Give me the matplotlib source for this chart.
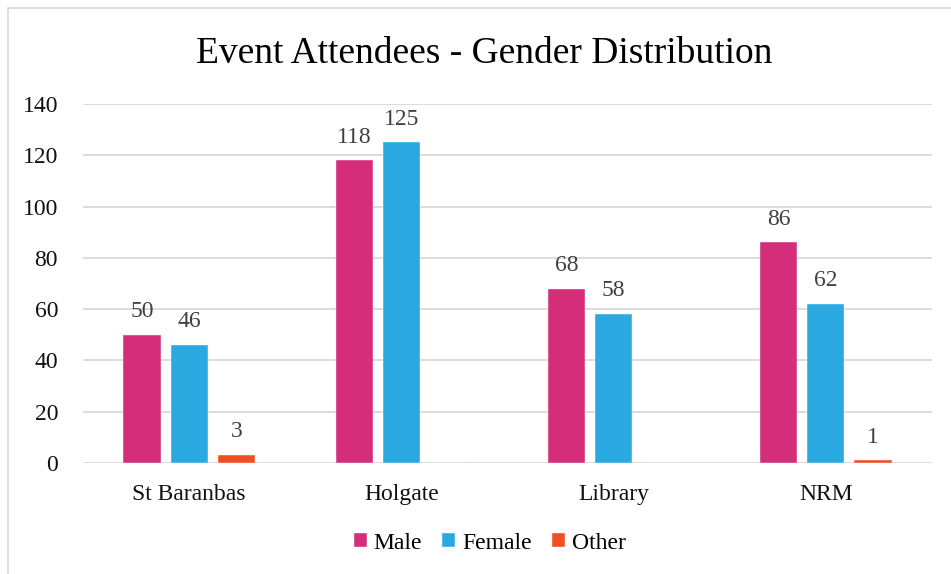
import numpy as np
import matplotlib
matplotlib.use('Agg')
import matplotlib.pyplot as plt
from matplotlib.patches import Rectangle

plt.rcParams['font.family'] = ['Liberation Serif', 'DejaVu Serif']

venues = ['St Baranbas', 'Holgate', 'Library', 'NRM']
male = [50, 118, 68, 86]
female = [46, 125, 58, 62]
other = [3, 0, 0, 1]
series = ['Male', 'Female', 'Other']
colors = ['#D42E7A', '#29A9E0', '#F04E23']

fig = plt.figure(figsize=(9.51, 5.74), dpi=100)
ax = fig.add_axes([0.0873, 0.1934, 0.8927, 0.6254])

# outer chart border (only the left and top edges are visible in the crop)
fig.patches.append(Rectangle((8 / 951, -0.1), 1.2, 1.1 - 8 / 574, transform=fig.transFigure,
                             fill=False, edgecolor='#D9D9D9', linewidth=1.2))

x = np.arange(len(venues))
w = 0.175
step = 0.222
for i, (name, vals, c) in enumerate(zip(series, [male, female, other], colors)):
    pos = x + (i - 1) * step
    bars = ax.bar(pos, vals, w, color=c, label=name, edgecolor='white', linewidth=0.3, zorder=3)
    for p, v in zip(pos, vals):
        if v > 0:
            ax.text(p, v + 5, str(v), ha='center', va='bottom', fontsize=17, color='#404040')

ax.set_xlim(-0.5, 3.5)
ax.set_ylim(0, 140)
ax.set_yticks(range(0, 141, 20))
ax.grid(axis='y', color='#D9D9D9', linewidth=1.3, zorder=0)
for s in ax.spines.values():
    s.set_visible(False)
ax.tick_params(length=0, labelsize=17, labelcolor='#111111')
ax.tick_params(axis='y', pad=18)
ax.tick_params(axis='x', pad=15)
ax.set_xticks(x)
ax.set_xticklabels(venues)

fig.suptitle('Event Attendees - Gender Distribution', x=0.509, y=0.937, fontsize=27, color='#000000')

fig.legend(loc='center', bbox_to_anchor=(0.515, 0.054), ncol=3, frameon=False, fontsize=17,
           handlelength=0.55, handleheight=0.55, handletextpad=0.3, columnspacing=0.85)

fig.savefig('out.png', dpi=100)
